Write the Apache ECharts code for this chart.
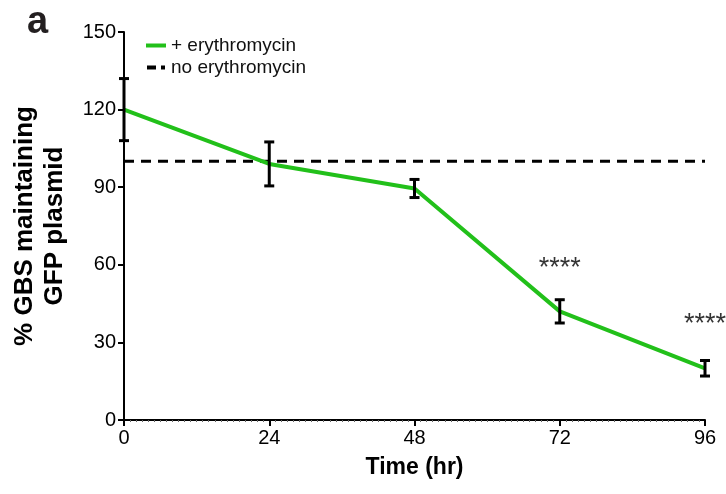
<!DOCTYPE html>
<html>
<head>
<meta charset="utf-8">
<script src="https://cdn.jsdelivr.net/npm/echarts@6/dist/echarts.min.js"></script>
<style>
  html, body { margin: 0; padding: 0; background: #fff; }
  #main { width: 726px; height: 494px; }
</style>
</head>
<body>
<div id="main"></div>
<script>
// time points (hr)
var hours = [0, 24, 48, 72, 96];
// + erythromycin: mean and error
var withEry = [120, 99, 89.5, 42, 20];
var withEryErr = [12, 8.5, 3.5, 4.5, 3];
// no erythromycin reference level
var noEry = [100, 100, 100, 100, 100];
// significance marks
var starX = [72, 96];
var starY = [58.5, 37];
var starText = ['****', '****'];

var green = '#22c01a';
var font = '"Liberation Sans", Arial, sans-serif';

var lineData = hours.map(function (h, i) { return [h, withEry[i]]; });
var refData = hours.map(function (h, i) { return [h, noEry[i]]; });
var errData = hours.map(function (h, i) { return [h, withEry[i] - withEryErr[i], withEry[i] + withEryErr[i]]; });
var starData = starX.map(function (x, i) { return { value: [x, starY[i]], label: { formatter: starText[i] } }; });

var chart = echarts.init(document.getElementById('main'));
chart.setOption({
  animation: false,
  textStyle: { fontFamily: font },
  grid: { left: 124, right: 21, top: 32, bottom: 74, outerBoundsMode: 'none', containLabel: false },
  graphic: [{
    type: 'text', left: 27, top: 4,
    style: { text: 'a', font: 'bold 38px ' + font, fill: '#231f20' }
  }],
  legend: {
    left: 141, top: 31, orient: 'vertical', itemGap: 3,
    itemWidth: 20, itemHeight: 4,
    textStyle: { fontFamily: font, fontSize: 19, color: '#111' },
    data: [
      { name: '+ erythromycin', icon: 'rect', itemStyle: { color: green } },
      { name: 'no erythromycin', icon: 'path://M0,0h9v4h-9z M14,0h4v4h-4z', itemStyle: { color: '#000' } }
    ]
  },
  xAxis: {
    type: 'value', min: 0, max: 96, interval: 24,
    name: 'Time (hr)', nameLocation: 'middle', nameGap: 36,
    nameTextStyle: { fontSize: 23, fontWeight: 'bold', color: '#000', fontFamily: font },
    axisLine: { lineStyle: { color: '#000', width: 2 } },
    axisTick: { length: 6, lineStyle: { color: '#000', width: 2 } },
    minorTick: { show: true, splitNumber: 24, length: 2, lineStyle: { color: '#666', width: 1 } },
    axisLabel: { fontSize: 20, color: '#000', margin: 8, fontFamily: font },
    splitLine: { show: false }
  },
  yAxis: {
    type: 'value', min: 0, max: 150, interval: 30,
    name: '% GBS maintaining\nGFP plasmid', nameLocation: 'middle', nameGap: 54,
    nameTextStyle: { fontSize: 26, fontWeight: 'bold', color: '#000', lineHeight: 30, fontFamily: font },
    axisLine: { show: true, lineStyle: { color: '#000', width: 2 } },
    axisTick: { show: true, length: 6, lineStyle: { color: '#000', width: 2 } },
    axisLabel: { fontSize: 20, color: '#000', margin: 8, fontFamily: font },
    splitLine: { show: false }
  },
  series: [
    {
      name: 'no erythromycin', type: 'line', data: refData, symbol: 'none',
      lineStyle: { color: '#000', width: 3, type: [10, 7] }, z: 2
    },
    {
      name: '+ erythromycin', type: 'line', data: lineData, symbol: 'none',
      lineStyle: { color: green, width: 4 }, itemStyle: { color: green }, z: 3
    },
    {
      name: 'err', type: 'custom', data: errData, z: 4,
      renderItem: function (params, api) {
        var x = api.value(0);
        var lo = api.coord([x, api.value(1)]);
        var hi = api.coord([x, api.value(2)]);
        var w = 5;
        var st = { stroke: '#000', lineWidth: 3 };
        return {
          type: 'group',
          children: [
            { type: 'line', shape: { x1: lo[0], y1: lo[1], x2: hi[0], y2: hi[1] }, style: st },
            { type: 'line', shape: { x1: lo[0] - w, y1: lo[1], x2: lo[0] + w, y2: lo[1] }, style: st },
            { type: 'line', shape: { x1: hi[0] - w, y1: hi[1], x2: hi[0] + w, y2: hi[1] }, style: st }
          ]
        };
      }
    },
    {
      name: 'stars', type: 'scatter', data: starData, symbolSize: 0, z: 5,
      label: { show: true, position: 'inside', fontSize: 27, color: '#000', fontFamily: font }
    }
  ]
});
</script>
</body>
</html>
